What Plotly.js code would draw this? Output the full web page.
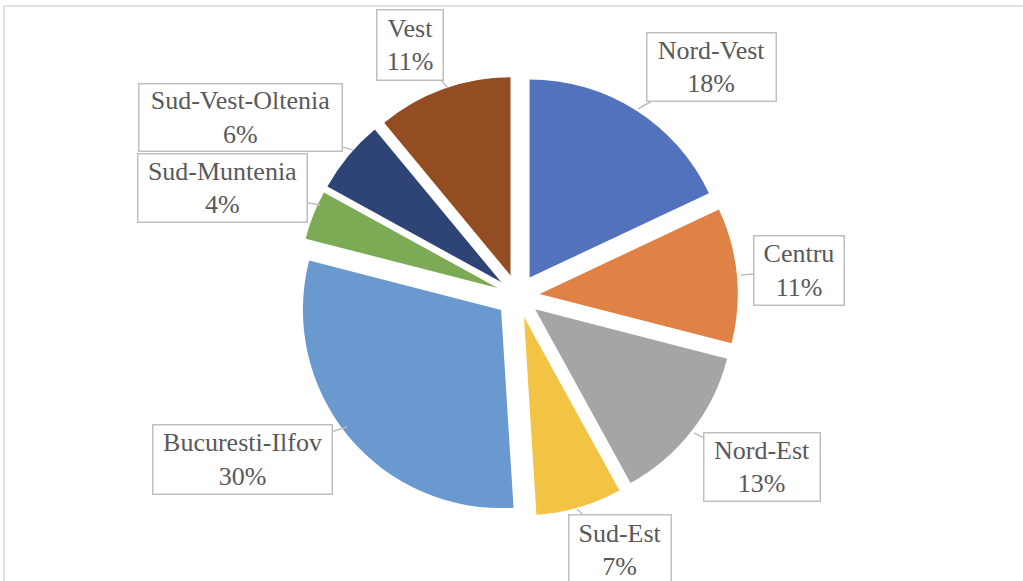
<!DOCTYPE html>
<html>
<head>
<meta charset="utf-8">
<script src="https://cdn.plot.ly/plotly-3.0.1.min.js"></script>
<style>
  html, body { margin: 0; padding: 0; background: #ffffff; }
  #chart { width: 1023px; height: 581px; }
</style>
</head>
<body>
<div id="chart"></div>
<script>
// ---- data ----
const regions = ["Nord-Vest", "Centru", "Nord-Est", "Sud-Est", "Bucuresti-Ilfov", "Sud-Muntenia", "Sud-Vest-Oltenia", "Vest"];
const shares = [18, 11, 13, 7, 30, 4, 6, 11];
const sliceColors = ["#5272BE", "#E08245", "#A5A5A5", "#F3C443", "#6A99D0", "#7DAA54", "#2E4476", "#924D22"];

// ---- layout helpers (label box placement in pixels) ----
const W = 1023, H = 581;
// [boxCenterX, boxCenterY, boxW, boxH, tipX, tipY]
const labelBoxes = [
  [711.5, 67, 131, 70, 638, 109],
  [799, 270.5, 92, 71, 741, 275],
  [762, 467, 118, 70, 694, 433],
  [620, 550, 104, 72, 577, 509],
  [242.5, 459.5, 181, 71, 347, 427],
  [222.5, 188, 171, 70, 320, 205],
  [240.5, 117.5, 205, 69, 353, 150],
  [410, 45, 68, 72, 448, 88]
];

const labelFont = { family: "Liberation Serif", size: 26, color: "#595959" };

const annotations = regions.map((name, i) => {
  const b = labelBoxes[i];
  return {
    xref: "paper", yref: "paper",
    x: b[4] / W, y: 1 - b[5] / H,
    ax: b[0] - b[4], ay: b[1] - b[5],
    axref: "pixel", ayref: "pixel",
    showarrow: true, arrowhead: 0, arrowwidth: 1.5, arrowcolor: "#BFBFBF",
    standoff: 0, startstandoff: 0,
    text: name + "<br>" + shares[i] + "%",
    font: labelFont,
    align: "center",
    bgcolor: "#ffffff",
    bordercolor: "#BFBFBF", borderwidth: 1.5, borderpad: 0,
    width: b[2] - 3, height: b[3] - 3,
    valign: "middle"
  };
});

const trace = {
  type: "pie",
  labels: regions,
  values: shares,
  marker: { colors: sliceColors, line: { width: 0 } },
  sort: false,
  direction: "clockwise",
  rotation: 0,
  pull: 0.11,
  textinfo: "none",
  hoverinfo: "skip",
  showlegend: false,
  domain: { x: [0.2912, 0.7213], y: [0.1119, 0.8692] }
};

const layout = {
  width: W, height: H,
  margin: { l: 0, r: 0, t: 0, b: 0 },
  paper_bgcolor: "#ffffff",
  font: labelFont,
  showlegend: false,
  annotations: annotations,
  shapes: [
    { type: "line", xref: "paper", yref: "paper", x0: 4 / W, x1: 1, y0: 1 - 6 / H, y1: 1 - 6 / H, line: { color: "#D9D9D9", width: 1.5 } },
    { type: "line", xref: "paper", yref: "paper", x0: 4 / W, x1: 4 / W, y0: 0, y1: 1 - 6 / H, line: { color: "#D9D9D9", width: 1.5 } }
  ]
};

Plotly.newPlot("chart", [trace], layout, { displayModeBar: false, staticPlot: true });
</script>
</body>
</html>
